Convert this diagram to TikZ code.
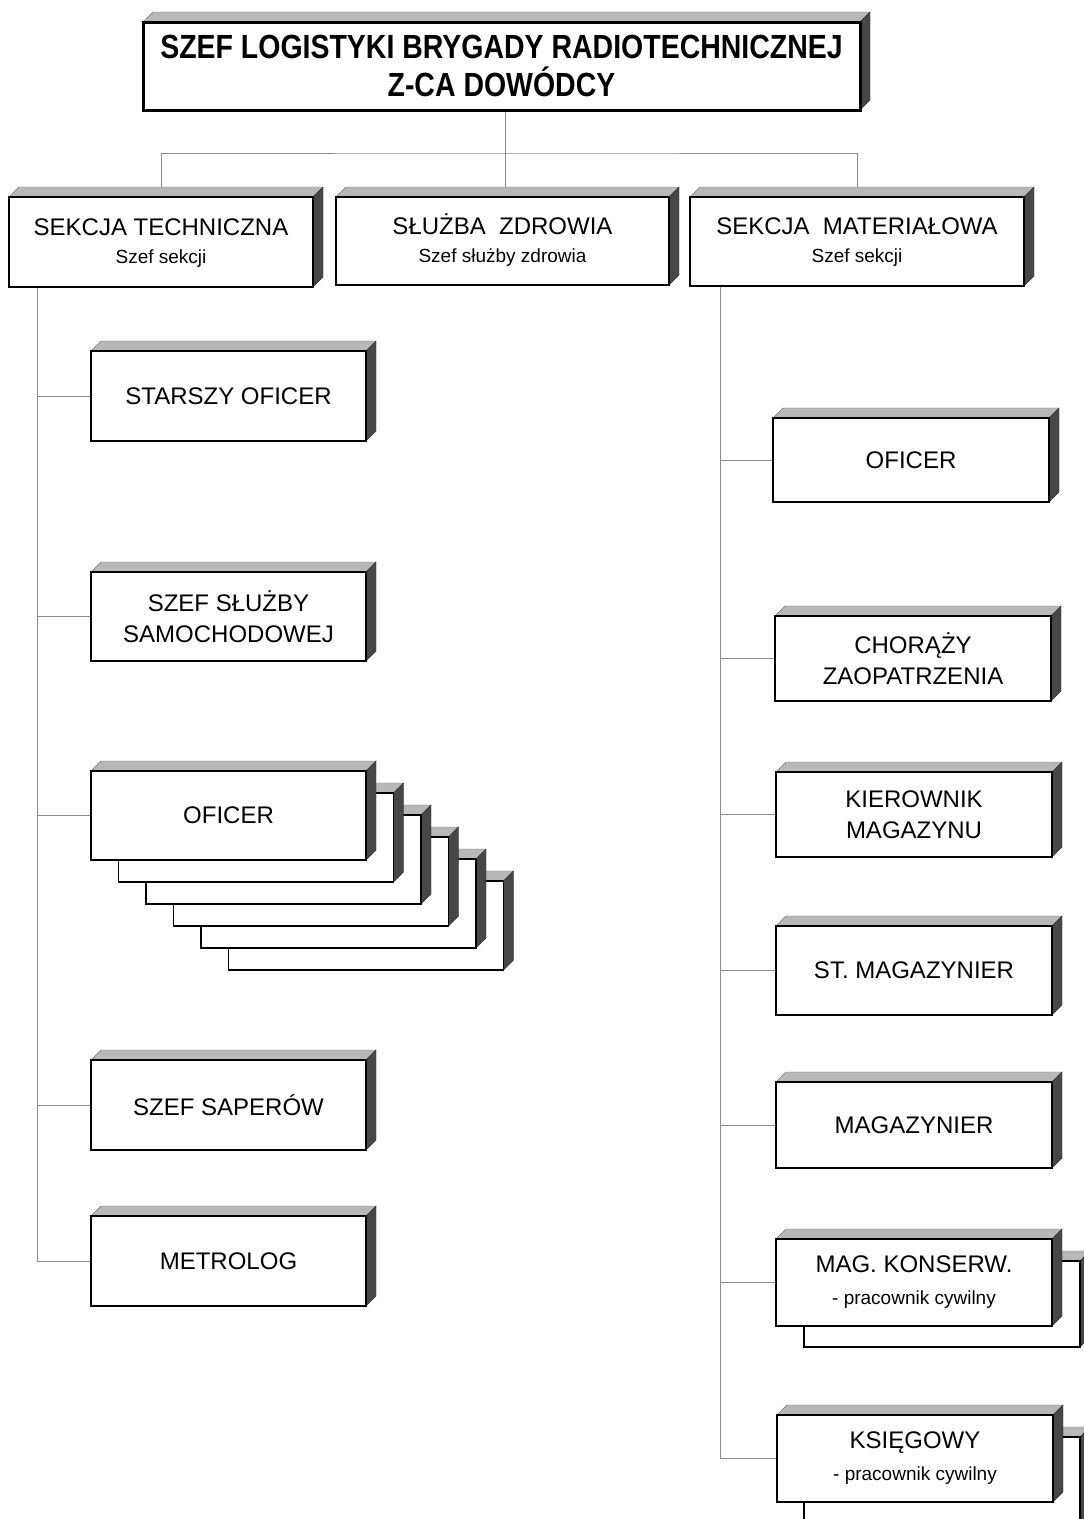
\documentclass[tikz,border=0pt]{standalone}
\usepackage{fontspec}
\setmainfont{Liberation Sans}
\newfontfamily\titlefont[FakeStretch=0.85]{Liberation Sans}
\usetikzlibrary{calc,backgrounds}
\def\dd{10}
\tikzset{
  box/.style={draw=black, line width=1.8pt, fill=white, inner sep=0pt, outer sep=0pt,
    align=center, font=\fontsize{24}{31}\selectfont},
  titlebox/.style={box, line width=3pt, font=\titlefont\bfseries\fontsize{33.5}{38}\selectfont},
  conn/.style={draw=black!45, line width=0.7pt},
  topface/.style={fill=black!28, draw=black!55, line width=0.4pt},
  sideface/.style={fill=black!72, draw=black!80, line width=0.4pt}
}
% #1 name, #2 x1, #3 y1, #4 x2, #5 y2, #6 extra style, #7 text
\newcommand\mkbox[7]{%
  \filldraw[topface] (#2,#3) -- ({#2+\dd},{#3-\dd}) -- ({#4+\dd},{#3-\dd}) -- (#4,#3) -- cycle;
  \filldraw[sideface] (#4,#3) -- ({#4+\dd},{#3-\dd}) -- ({#4+\dd},{#5-\dd}) -- (#4,#5) -- cycle;
  \node[box, #6, minimum width={#4-#2}, minimum height={#5-#3}] (#1) at ({(#2+#4)/2},{(#3+#5)/2}) {#7};
}
\newcommand\subl[1]{\\[-3pt]{\fontsize{19}{23}\selectfont\strut #1}}
\begin{document}
\begin{tikzpicture}[x=1pt,y=-1pt]
\useasboundingbox (0,0) rectangle (1084,1519);
\clip (0,0) rectangle (1084,1519);

% title
\mkbox{top}{143}{22}{860}{110}{titlebox}{SZEF LOGISTYKI BRYGADY RADIOTECHNICZNEJ\\Z-CA DOWÓDCY}

% sections
\mkbox{tech}{9}{197}{313}{287}{}{\strut SEKCJA TECHNICZNA\subl{Szef sekcji}}
\mkbox{zdr}{336}{197}{669}{285}{}{\strut SŁUŻBA\ \ ZDROWIA\subl{Szef służby zdrowia}}
\mkbox{mat}{690}{197}{1024}{286}{}{\strut SEKCJA\ \ MATERIAŁOWA\subl{Szef sekcji}}

% left column
\mkbox{so}{91}{351}{366}{441}{}{STARSZY OFICER}
\mkbox{sss}{91}{572}{366}{661}{}{SZEF SŁUŻBY\\SAMOCHODOWEJ}
\mkbox{ofl5}{228.5}{881}{503.5}{970}{}{}
\mkbox{ofl4}{201}{859}{476}{948}{}{}
\mkbox{ofl3}{173.5}{837}{448.5}{926}{}{}
\mkbox{ofl2}{146}{815}{421}{904}{}{}
\mkbox{ofl1}{118.5}{793}{393.5}{882}{}{}
\mkbox{ofl}{91}{771}{366}{860}{}{OFICER}
\mkbox{sap}{91}{1060}{366}{1150}{}{SZEF SAPERÓW}
\mkbox{met}{91}{1216}{366}{1306}{}{METROLOG}

% right column
\mkbox{ofr}{773}{418}{1049}{502}{}{OFICER}
\mkbox{chor}{775}{616}{1051}{701}{}{CHORĄŻY\\ZAOPATRZENIA}
\mkbox{kier}{776}{772}{1052}{857}{}{KIEROWNIK\\MAGAZYNU}
\mkbox{stm}{776}{926}{1052}{1015}{}{ST. MAGAZYNIER}
\mkbox{mag}{776}{1082}{1052}{1168}{}{MAGAZYNIER}
\mkbox{mk2}{804}{1261}{1080}{1347}{}{}
\mkbox{mk}{776}{1239}{1052}{1326}{}{MAG. KONSERW.\\[1pt]{\fontsize{19}{23}\selectfont - pracownik cywilny}}
\mkbox{ksi2}{804}{1437}{1080}{1524}{}{}
\mkbox{ksi}{777}{1415}{1053}{1502}{}{KSIĘGOWY\\[1pt]{\fontsize{19}{23}\selectfont - pracownik cywilny}}

% connectors
\begin{pgfonlayer}{background}
  \fill[white] (0,0) rectangle (1084,1519);
  \coordinate (ts) at ($(top.south)+(4,0)$);
  \draw[conn] (ts) -- ++(0,43) coordinate (hub);
  \draw[conn] (tech.north) |- (hub) -| (mat.north);
  \draw[conn] (hub) -- (zdr.north -| hub);
  \coordinate (lt) at ($(tech.south west)+(28,0)$);
  \draw[conn] (lt) |- (met.west);
  \foreach \b in {so,sss,ofl,sap} \draw[conn] (lt |- \b.west) -- (\b.west);
  \coordinate (rt) at ($(mat.south west)+(30,0)$);
  \draw[conn] (rt) |- (ksi.west);
  \foreach \b in {ofr,chor,kier,stm,mag,mk} \draw[conn] (rt |- \b.west) -- (\b.west);
\end{pgfonlayer}
\end{tikzpicture}
\end{document}
